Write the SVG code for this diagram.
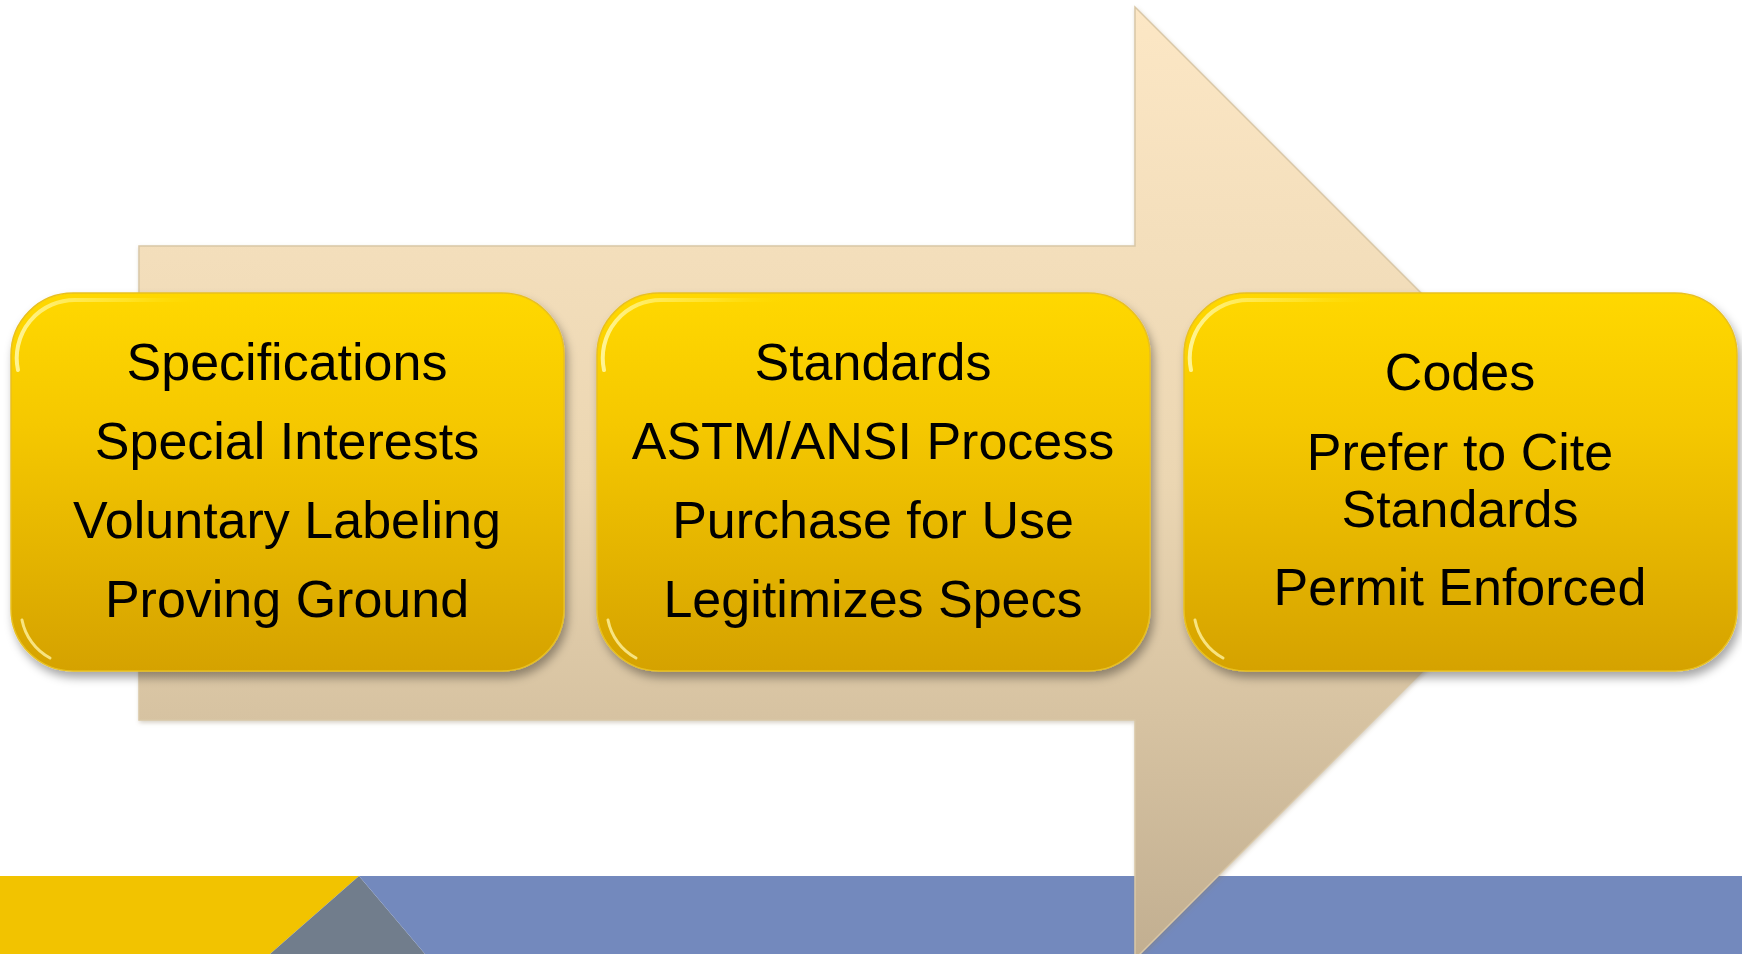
<svg xmlns="http://www.w3.org/2000/svg" width="1742" height="954" viewBox="0 0 1742 954">
<defs>
<linearGradient id="arrowGrad" x1="0" y1="7" x2="0" y2="954" gradientUnits="userSpaceOnUse">
<stop offset="0" stop-color="#FCE7C5"/>
<stop offset="0.5" stop-color="#EBD6B2"/>
<stop offset="1" stop-color="#C2AF91"/>
</linearGradient>
<linearGradient id="boxGrad" x1="0" y1="0" x2="0" y2="1">
<stop offset="0" stop-color="#FFD800"/>
<stop offset="0.35" stop-color="#F5C800"/>
<stop offset="1" stop-color="#D5A200"/>
</linearGradient>
<linearGradient id="hiGrad" x1="0" y1="0" x2="1" y2="0">
<stop offset="0" stop-color="#FFF59A" stop-opacity="0.95"/>
<stop offset="0.6" stop-color="#FFEA40" stop-opacity="0.6"/>
<stop offset="1" stop-color="#FFE000" stop-opacity="0"/>
</linearGradient>
<filter id="shadow" x="-10%" y="-10%" width="125%" height="130%">
<feDropShadow dx="3" dy="6" stdDeviation="5" flood-color="#000" flood-opacity="0.35"/>
</filter>
<filter id="soft" x="-10%" y="-10%" width="120%" height="120%">
<feDropShadow dx="1" dy="2" stdDeviation="2" flood-color="#8a7a5a" flood-opacity="0.35"/>
</filter>
</defs>
<style>
.box{fill:url(#boxGrad);stroke:#E8C020;stroke-width:1.5;filter:url(#shadow)}
.hi{fill:none;stroke:url(#hiGrad);stroke-width:4;stroke-linecap:round}
.hb{fill:none;stroke:#FFF3A0;stroke-opacity:0.8;stroke-width:3;stroke-linecap:round}
.t{font-family:"Liberation Sans",Arial,sans-serif;font-size:52px;fill:#000;text-anchor:middle}
</style>
<rect x="0" y="0" width="1742" height="954" fill="#FFFFFF"/>
<g id="band">
<polygon points="0,876 359,876 270,954 0,954" fill="#F2C300"/>
<polygon points="359,876 425,954 270,954" fill="#717D8C"/>
<polygon points="359,876 1742,876 1742,954 425,954" fill="#7389BD"/>
</g>
<g id="arrow">
<polygon points="139,246 1135,246 1135,7 1611,483 1135,959 1135,720 139,720" fill="url(#arrowGrad)" stroke="#D9C7A6" stroke-width="1.5" filter="url(#soft)"/>
</g>
<g id="connectors"></g>
<g id="node1">
<rect class="box" x="11" y="293" width="553" height="378" rx="62" ry="62"/>
<path class="hi" d="M 18,370 A 58,58 0 0 1 76,300 L 200,300"/>
<path class="hb" d="M 22,620 A 55,55 0 0 0 50,658"/>
<text class="t" x="287" y="380">Specifications</text>
<text class="t" x="287" y="459">Special Interests</text>
<text class="t" x="287" y="538">Voluntary Labeling</text>
<text class="t" x="287" y="617">Proving Ground</text>
</g>
<g id="node2">
<rect class="box" x="597" y="293" width="553" height="378" rx="62" ry="62"/>
<path class="hi" d="M 604,370 A 58,58 0 0 1 662,300 L 786,300"/>
<path class="hb" d="M 608,620 A 55,55 0 0 0 636,658"/>
<text class="t" x="873" y="380">Standards</text>
<text class="t" x="873" y="459">ASTM/ANSI Process</text>
<text class="t" x="873" y="538">Purchase for Use</text>
<text class="t" x="873" y="617">Legitimizes Specs</text>
</g>
<g id="node3">
<rect class="box" x="1184" y="293" width="553" height="378" rx="62" ry="62"/>
<path class="hi" d="M 1191,370 A 58,58 0 0 1 1249,300 L 1373,300"/>
<path class="hb" d="M 1195,620 A 55,55 0 0 0 1223,658"/>
<text class="t" x="1460" y="390">Codes</text>
<text class="t" x="1460" y="470">Prefer to Cite</text>
<text class="t" x="1460" y="527">Standards</text>
<text class="t" x="1460" y="605">Permit Enforced</text>
</g>
</svg>
